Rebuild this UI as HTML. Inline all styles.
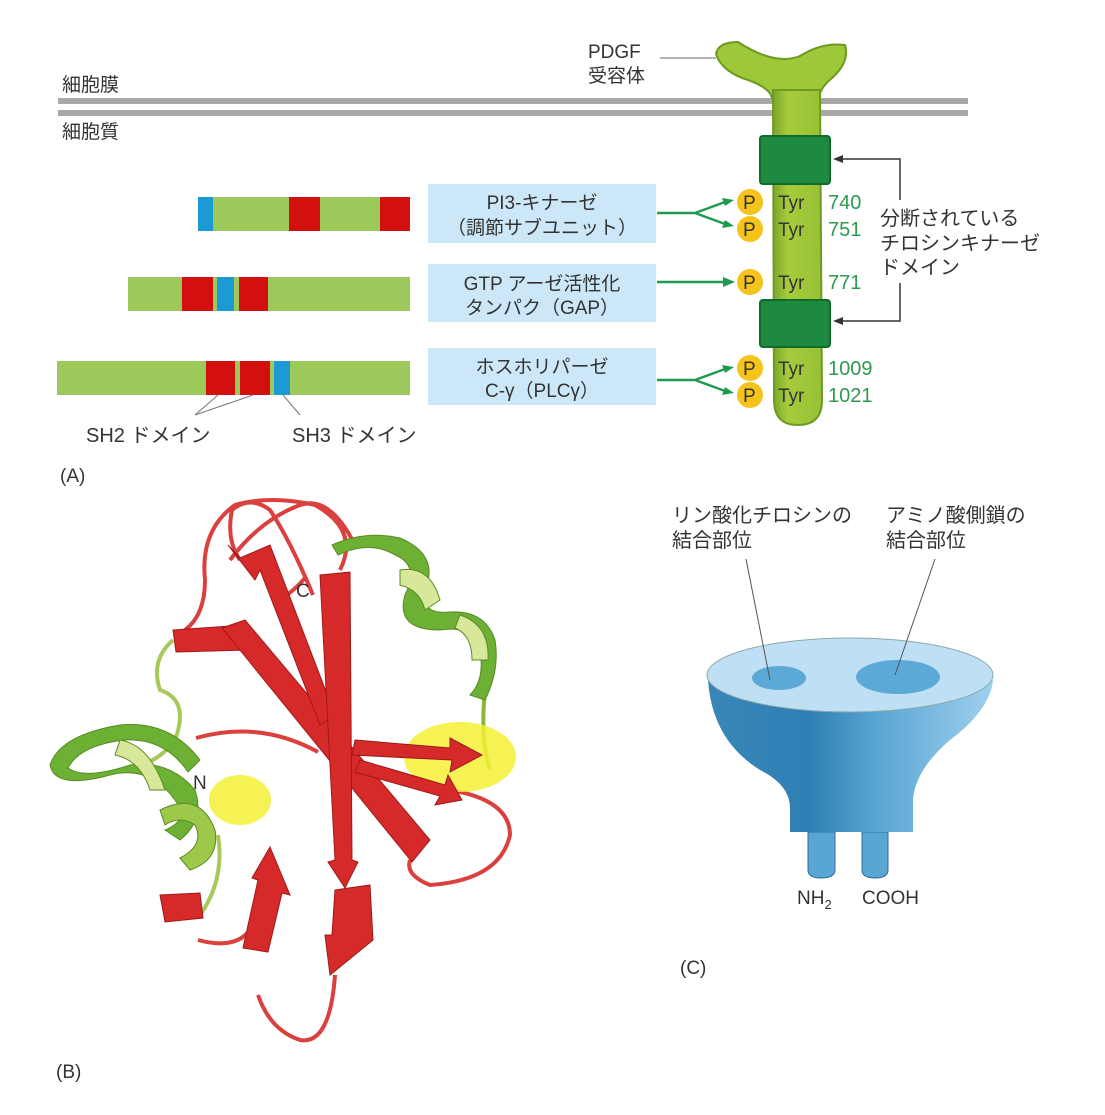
<!DOCTYPE html>
<html><head><meta charset="utf-8"><style>
html,body{margin:0;padding:0;background:#fff}
svg{display:block}
text{font-family:"Liberation Sans","Noto Sans CJK JP",sans-serif;fill:#333}
</style></head><body>
<svg width="1105" height="1115" viewBox="0 0 1105 1115" xmlns="http://www.w3.org/2000/svg">
<defs>
<linearGradient id="cup" x1="0" x2="1" y1="0" y2="0">
<stop offset="0" stop-color="#3a86b8"/><stop offset="0.35" stop-color="#2f7fb5"/><stop offset="0.6" stop-color="#5aa6d3"/><stop offset="1" stop-color="#9fd0ee"/></linearGradient>
<linearGradient id="stem" x1="0" x2="1"><stop offset="0" stop-color="#7aa52a"/><stop offset="0.3" stop-color="#a6cc3c"/><stop offset="1" stop-color="#98c035"/></linearGradient>
</defs>

<!-- membrane -->
<rect x="58" y="98" width="910" height="6" fill="#a8a8a8"/>
<rect x="58" y="110" width="910" height="6" fill="#a8a8a8"/>
<text x="62" y="91" font-size="19">細胞膜</text>
<text x="62" y="138" font-size="19">細胞質</text>

<!-- receptor -->
<line x1="660" y1="58" x2="716" y2="58" stroke="#666" stroke-width="1"/>
<text x="588" y="58" font-size="19">PDGF</text>
<text x="588" y="82" font-size="19">受容体</text>
<path d="M716 54 Q718 42 738 42 Q775 66 800 56 Q822 42 845 45 Q850 62 832 78 Q818 90 820 98 L772 98 Q770 88 748 80 Q722 72 716 54Z" fill="#9cc83a" stroke="#6e9a22" stroke-width="2"/>
<path d="M773 90 L820 90 L822 400 Q822 425 798 425 Q774 425 774 400Z" fill="url(#stem)" stroke="#6e9a22" stroke-width="2"/>
<rect x="760" y="136" width="70" height="48" rx="3" fill="#1e8a40" stroke="#0f6a2c" stroke-width="2"/>
<rect x="760" y="300" width="70" height="47" rx="3" fill="#1e8a40" stroke="#0f6a2c" stroke-width="2"/>
<g font-size="19">
<circle cx="750" cy="202" r="13" fill="#f6c31a"/><text x="743" y="209">P</text><text x="778" y="209">Tyr</text>
<circle cx="750" cy="229" r="13" fill="#f6c31a"/><text x="743" y="236">P</text><text x="778" y="236">Tyr</text>
<circle cx="750" cy="282" r="13" fill="#f6c31a"/><text x="743" y="289">P</text><text x="778" y="289">Tyr</text>
<circle cx="750" cy="368" r="13" fill="#f6c31a"/><text x="743" y="375">P</text><text x="778" y="375">Tyr</text>
<circle cx="750" cy="395" r="13" fill="#f6c31a"/><text x="743" y="402">P</text><text x="778" y="402">Tyr</text>
<text x="828" y="209" style="fill:#2e9a50" font-size="20">740</text><text x="828" y="236" style="fill:#2e9a50" font-size="20">751</text><text x="828" y="289" style="fill:#2e9a50" font-size="20">771</text><text x="828" y="375" style="fill:#2e9a50" font-size="20">1009</text><text x="828" y="402" style="fill:#2e9a50" font-size="20">1021</text>
</g>
<path d="M900 200 V159 H842" fill="none" stroke="#333" stroke-width="1.5"/>
<path d="M833 159 l10 -4 v8z" fill="#333"/>
<path d="M900 283 V321 H842" fill="none" stroke="#333" stroke-width="1.5"/>
<path d="M833 321 l10 -4 v8z" fill="#333"/>
<text x="880" y="225" font-size="20">分断されている</text>
<text x="880" y="250" font-size="20">チロシンキナーゼ</text>
<text x="880" y="274" font-size="20">ドメイン</text>

<g stroke="#1f9a50" stroke-width="2.5" fill="none">
<path d="M657 213 H695 L725 202 M695 213 L725 224"/>
<path d="M657 282 H725"/>
<path d="M657 380 H695 L725 369 M695 380 L725 391"/>
</g>
<g fill="#1f9a50">
<path d="M734 200 l-12 -2 l3 8z"/><path d="M734 226 l-12 2 l3 -8z"/>
<path d="M735 282 l-12 -5 v10z"/>
<path d="M734 367 l-12 -2 l3 8z"/><path d="M734 393 l-12 2 l3 -8z"/>
</g>

<rect x="428" y="184" width="228" height="59" fill="#cce8f8"/>
<rect x="428" y="264" width="228" height="58" fill="#cce8f8"/>
<rect x="428" y="348" width="228" height="57" fill="#cce8f8"/>
<g font-size="19" text-anchor="middle">
<text x="542" y="209">PI3-キナーゼ</text><text x="542" y="234">（調節サブユニット）</text>
<text x="542" y="290">GTP アーゼ活性化</text><text x="542" y="314">タンパク（GAP）</text>
<text x="542" y="373">ホスホリパーゼ</text><text x="542" y="397">C-γ（PLCγ）</text>
</g>

<rect x="198" y="197" width="212" height="34" fill="#9bc95a"/>
<rect x="198" y="197" width="15" height="34" fill="#1c9ad6"/>
<rect x="289" y="197" width="31" height="34" fill="#d40f0f"/>
<rect x="380" y="197" width="30" height="34" fill="#d40f0f"/>
<rect x="128" y="277" width="282" height="34" fill="#9bc95a"/>
<rect x="182" y="277" width="31" height="34" fill="#d40f0f"/>
<rect x="217" y="277" width="17" height="34" fill="#1c9ad6"/>
<rect x="239" y="277" width="29" height="34" fill="#d40f0f"/>
<rect x="57" y="361" width="353" height="34" fill="#9bc95a"/>
<rect x="206" y="361" width="29" height="34" fill="#d40f0f"/>
<rect x="240" y="361" width="30" height="34" fill="#d40f0f"/>
<rect x="274" y="361" width="16" height="34" fill="#1c9ad6"/>
<path d="M218 395 L195 415 L253 395 M283 395 L300 415" stroke="#777" stroke-width="1" fill="none"/>
<text x="86" y="442" font-size="20">SH2 ドメイン</text>
<text x="292" y="442" font-size="20">SH3 ドメイン</text>
<text x="60" y="482" font-size="19">(A)</text>

<!-- (B) ribbon -->
<g fill="none" stroke="#d9403e" stroke-width="4">
<path d="M313 595 Q290 540 270 510 Q250 495 232 510 Q226 540 240 560"/>
<path d="M340 570 Q360 530 315 505 Q270 495 235 505 Q200 530 205 580 Q205 615 185 630"/>
<path d="M355 545 Q330 495 300 505 Q260 520 230 560"/>
<path d="M196 738 Q260 720 318 752"/>
<path d="M450 790 Q510 800 510 835 Q500 880 430 885 Q405 875 410 860"/>
<path d="M198 940 Q235 950 250 930 Q258 900 268 870"/>
<path d="M258 995 Q270 1030 300 1040 Q330 1045 335 975"/>
<path d="M280 600 Q295 590 305 578"/>
</g>
<path d="M173 640 Q150 660 160 690 Q190 700 175 740 Q160 760 140 765" fill="none" stroke="#a8c95a" stroke-width="4"/>
<path d="M218 835 Q225 880 200 915" fill="none" stroke="#a8c95a" stroke-width="4"/>
<path d="M485 690 Q480 740 490 770" fill="none" stroke="#8ab838" stroke-width="4"/>
<ellipse cx="240" cy="800" rx="31" ry="25" fill="#f4f035" opacity="0.85"/>
<ellipse cx="460" cy="757" rx="56" ry="35" fill="#f4f035" opacity="0.85"/>
<g stroke="#5a8a22" stroke-width="1">
<path d="M338 555 Q370 540 395 555 Q420 565 405 595 Q395 630 440 630 Q475 625 480 650 Q485 680 470 695 L485 700 Q500 670 495 640 Q485 610 450 612 Q420 615 425 590 Q440 555 400 538 Q365 530 332 545Z" fill="#6cb034"/>
<path d="M400 570 Q430 565 440 600 L425 610 Q420 590 400 585Z" fill="#d8e89a"/>
<path d="M460 615 Q490 625 488 660 L472 660 Q472 635 455 628Z" fill="#d8e89a"/>
<path d="M200 760 Q170 720 120 725 Q60 735 50 765 Q55 790 110 775 Q150 765 175 800 Q190 820 165 830 L180 840 Q205 820 195 790 Q170 760 130 765 Q85 780 68 768 Q80 745 125 740 Q165 738 188 772Z" fill="#6cb034"/>
<path d="M160 810 Q200 790 215 830 Q220 860 190 870 L180 858 Q205 845 195 825 Q180 815 165 825Z" fill="#9cc94a"/>
<path d="M120 740 Q150 745 165 790 L150 790 Q140 760 115 755Z" fill="#d8e89a"/>
</g>
<g fill="#d62a2a" stroke="#a01818" stroke-width="1">
<path d="M173 630 L245 625 L248 650 L176 652Z"/>
<path d="M222 628 L245 620 L430 840 L412 862Z"/>
<path d="M228 545 L240 558 L270 545 L335 715 L320 725 L260 570 L255 580Z"/>
<path d="M320 575 L350 572 L352 860 L358 862 L345 888 L328 862 L335 860Z"/>
<path d="M355 740 L450 748 L450 738 L482 755 L450 772 L452 760 L352 755Z"/>
<path d="M360 760 L445 785 L448 775 L462 800 L435 805 L440 796 L355 772Z"/>
<path d="M335 890 L370 885 L373 940 L330 975 L325 935 L332 935Z"/>
<path d="M243 948 L258 880 L252 878 L270 847 L290 895 L282 893 L268 952Z"/>
<path d="M160 895 L200 893 L203 918 L165 922Z"/>
</g>
<text x="296" y="597" font-size="19">C</text>
<text x="193" y="789" font-size="19">N</text>
<text x="56" y="1078" font-size="19">(B)</text>

<!-- (C) cup -->
<text x="672" y="522" font-size="20">リン酸化チロシンの</text>
<text x="672" y="547" font-size="20">結合部位</text>
<text x="886" y="522" font-size="20">アミノ酸側鎖の</text>
<text x="886" y="547" font-size="20">結合部位</text>
<path d="M808 832 V870 Q808 878 821 878 Q835 878 835 870 V832Z" fill="#5aa6d3" stroke="#2c6c99"/>
<path d="M862 832 V870 Q862 878 875 878 Q888 878 888 870 V832Z" fill="#5aa6d3" stroke="#2c6c99"/>
<path d="M708 680 Q712 740 760 770 Q790 785 790 808 V832 H913 V800 Q915 770 950 740 Q990 710 993 680Z" fill="url(#cup)"/>
<ellipse cx="850" cy="675" rx="143" ry="37" fill="#bfe0f4" stroke="#8aa" stroke-width="1"/>
<ellipse cx="779" cy="678" rx="27" ry="12" fill="#5ca8d6"/>
<ellipse cx="898" cy="677" rx="42" ry="17" fill="#5ca8d6"/>
<line x1="746" y1="559" x2="770" y2="680" stroke="#555" stroke-width="1"/>
<line x1="935" y1="559" x2="895" y2="675" stroke="#555" stroke-width="1"/>
<text x="797" y="904" font-size="19">NH<tspan font-size="13" dy="5">2</tspan></text>
<text x="862" y="904" font-size="19">COOH</text>
<text x="680" y="974" font-size="19">(C)</text>
</svg>
</body></html>
